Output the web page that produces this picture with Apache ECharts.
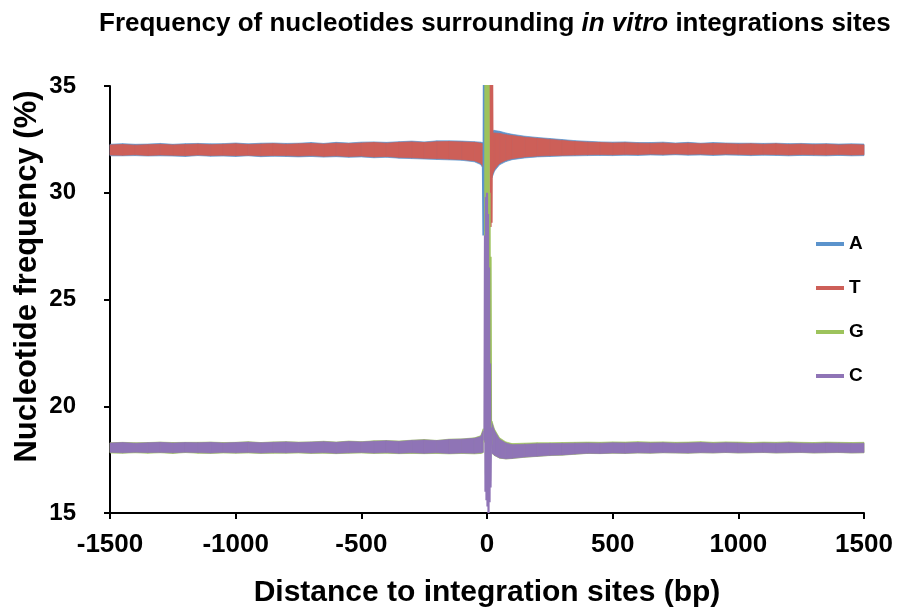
<!DOCTYPE html>
<html>
<head>
<meta charset="utf-8">
<script src="https://cdn.jsdelivr.net/npm/echarts@6/dist/echarts.min.js"></script>
<style>html,body{margin:0;padding:0;background:#fff}#c{width:904px;height:613px}</style>
</head>
<body>
<div id="c"></div>
<script>
// ---- data (bp positions; null at 0 splits the band around the integration site) ----
const bandX = [-1500,-1450,-1400,-1350,-1300,-1250,-1200,-1150,-1100,-1050,-1000,-950,-900,-850,-800,-750,-700,-650,-600,-550,-500,-450,-400,-350,-300,-250,-200,-150,-100,-50,-25,-15,
  0,
  20,30,50,75,100,150,200,250,300,350,400,450,500,550,600,650,700,750,800,850,900,950,1000,1050,1100,1150,1200,1250,1300,1350,1400,1450,1500];

// A (upper / lower edge of the noisy band)
const aUpper = [32.27,32.30,32.27,32.28,32.31,32.27,32.30,32.31,32.29,32.30,32.33,32.29,32.32,32.33,32.31,32.32,32.35,32.31,32.36,32.33,32.37,32.38,32.36,32.39,32.42,32.38,32.43,32.43,32.42,32.39,32.37,32.34,
  null,
  32.92,32.92,32.88,32.80,32.74,32.65,32.59,32.54,32.49,32.44,32.41,32.38,32.37,32.38,32.35,32.35,32.37,32.33,32.36,32.32,32.35,32.33,32.32,32.32,32.31,32.32,32.30,32.31,32.29,32.30,32.28,32.29,32.28];
const aLower = [31.73,31.73,31.74,31.72,31.73,31.72,31.70,31.74,31.71,31.72,31.70,31.73,31.69,31.71,31.70,31.68,31.70,31.67,31.69,31.66,31.68,31.64,31.66,31.62,31.60,31.58,31.56,31.54,31.52,31.45,31.32,31.12,
  null,
  30.70,31.02,31.31,31.46,31.55,31.63,31.68,31.70,31.72,31.73,31.74,31.75,31.74,31.76,31.75,31.77,31.76,31.78,31.76,31.77,31.75,31.77,31.76,31.74,31.76,31.75,31.73,31.75,31.74,31.73,31.75,31.73,31.74];
// T
const tUpper = [32.24,32.26,32.23,32.25,32.27,32.24,32.26,32.28,32.25,32.27,32.29,32.26,32.28,32.30,32.27,32.29,32.31,32.28,32.32,32.30,32.33,32.35,32.32,32.36,32.38,32.35,32.39,32.40,32.38,32.36,32.32,32.28,
  null,
  32.78,32.80,32.78,32.72,32.68,32.60,32.55,32.50,32.45,32.40,32.37,32.35,32.33,32.34,32.32,32.31,32.33,32.30,32.32,32.29,32.31,32.30,32.28,32.29,32.27,32.29,32.26,32.28,32.25,32.27,32.24,32.26,32.24];
const tLower = [31.77,31.76,31.78,31.75,31.77,31.76,31.74,31.77,31.75,31.76,31.74,31.76,31.73,31.75,31.74,31.72,31.74,31.71,31.73,31.70,31.72,31.68,31.70,31.66,31.64,31.62,31.60,31.58,31.56,31.50,31.38,31.20,
  null,
  30.80,31.10,31.38,31.52,31.60,31.68,31.72,31.74,31.76,31.77,31.78,31.79,31.78,31.80,31.79,31.81,31.80,31.82,31.80,31.81,31.79,31.81,31.80,31.78,31.80,31.79,31.77,31.79,31.78,31.77,31.79,31.77,31.78];
// G
const gUpper = [18.29,18.31,18.29,18.30,18.32,18.30,18.31,18.31,18.32,18.30,18.31,18.34,18.30,18.33,18.34,18.32,18.33,18.36,18.32,18.37,18.34,18.38,18.39,18.37,18.41,18.44,18.40,18.46,18.47,18.52,18.62,18.95,
  null,
  19.30,18.92,18.52,18.33,18.25,18.27,18.29,18.29,18.30,18.31,18.32,18.31,18.33,18.32,18.34,18.32,18.33,18.31,18.32,18.34,18.31,18.33,18.32,18.30,18.32,18.31,18.33,18.31,18.30,18.32,18.31,18.30,18.31];
const gLower = [17.81,17.80,17.82,17.80,17.82,17.79,17.83,17.80,17.79,17.81,17.80,17.81,17.79,17.80,17.80,17.81,17.79,17.80,17.78,17.80,17.81,17.79,17.80,17.78,17.79,17.78,17.79,17.77,17.79,17.77,17.79,17.82,
  null,
  17.79,17.69,17.57,17.53,17.55,17.61,17.65,17.69,17.71,17.75,17.79,17.78,17.80,17.79,17.81,17.80,17.82,17.81,17.80,17.82,17.81,17.83,17.81,17.82,17.83,17.81,17.82,17.83,17.81,17.82,17.83,17.81,17.82];
// C
const cUpper = [18.28,18.30,18.27,18.29,18.31,18.28,18.30,18.29,18.31,18.28,18.30,18.32,18.29,18.31,18.33,18.30,18.32,18.34,18.31,18.35,18.33,18.36,18.38,18.35,18.40,18.42,18.39,18.44,18.46,18.50,18.58,18.85,
  null,
  19.20,18.85,18.45,18.28,18.20,18.22,18.24,18.25,18.26,18.27,18.28,18.27,18.29,18.28,18.30,18.28,18.29,18.27,18.28,18.30,18.27,18.29,18.28,18.26,18.28,18.27,18.29,18.27,18.26,18.28,18.27,18.26,18.27];
const cLower = [17.84,17.82,17.85,17.83,17.84,17.82,17.85,17.83,17.81,17.84,17.82,17.84,17.81,17.83,17.82,17.84,17.81,17.83,17.80,17.82,17.84,17.81,17.83,17.80,17.82,17.80,17.82,17.79,17.81,17.80,17.82,17.85,
  null,
  17.80,17.70,17.58,17.54,17.56,17.62,17.66,17.70,17.72,17.76,17.80,17.79,17.81,17.80,17.82,17.81,17.83,17.82,17.81,17.83,17.82,17.84,17.82,17.83,17.84,17.82,17.83,17.84,17.82,17.83,17.84,17.82,17.83];

// spikes right at the integration site (values above 35 run off the top of the plot)
const spikeAx = [-16,-14,-12,-10,-8];
const spikeAy = [31.2,28.0,36.5,28.2,36.5];
const spikeTx = [12,14,16,18,20,22];
const spikeTy = [36.5,28.4,36.5,28.6,36.5,31.0];
const spikeGx = [-8,-6,-4,-2,0,2,4,6,8,10,12,14,16];
const spikeGy = [18.3,36.5,16.8,36.5,16.5,36.5,16.6,36.5,16.7,30.0,16.5,27.0,18.2];
const spikeCx = [-10,-8,-6,-4,-2,0,2,4,6,8,10,12,14,16];
const spikeCy = [18.4,28.0,16.0,29.8,15.6,30.0,15.3,29.0,15.0,26.5,15.5,22.0,16.2,19.0];

const names = ['A','T','G','C'];
const xTicks = [-1500,-1000,-500,0,500,1000,1500];
const yTicks = [15,20,25,30,35];

// ---- styling ----
const FONT = '"Liberation Sans", Arial, Helvetica, sans-serif';
const colors = {A:'#5b93cc', T:'#cd5f58', G:'#9dc35c', C:'#8f74b6'};

function renderBand(params, api) {
  const i = params.dataIndexInside;
  if (i >= params.dataInsideLength - 1) return null;
  const x0 = api.value(0, i), lo0 = api.value(1, i), hi0 = api.value(2, i);
  const x1 = api.value(0, i + 1), lo1 = api.value(1, i + 1), hi1 = api.value(2, i + 1);
  if ([lo0, hi0, lo1, hi1].some(v => v == null || isNaN(v))) return null;
  const col = api.visual('color');
  return {
    type: 'polygon', silent: true,
    shape: {points: [api.coord([x0, hi0]), api.coord([x1, hi1]), api.coord([x1, lo1]), api.coord([x0, lo0])]},
    style: {fill: col, stroke: col, lineWidth: 0.7}
  };
}
function band(name, lo, hi) {
  return {
    name: name, type: 'custom', renderItem: renderBand, color: colors[name], silent: true,
    encode: {x: 0, y: [1, 2]},
    data: bandX.map((x, i) => [x, lo[i] == null ? '-' : lo[i], hi[i] == null ? '-' : hi[i]]),
    animation: false
  };
}
function spike(name, xs, ys) {
  return {
    name: name + '_spike', type: 'line', symbol: 'none', silent: true, color: colors[name],
    lineStyle: {width: 2.2, color: colors[name]}, clip: true,
    data: xs.map((x, i) => [x, ys[i]]), animation: false
  };
}

const series = [
  band('A', aLower, aUpper), spike('A', spikeAx, spikeAy),
  band('T', tLower, tUpper), spike('T', spikeTx, spikeTy),
  band('G', gLower, gUpper), spike('G', spikeGx, spikeGy),
  band('C', cLower, cUpper), spike('C', spikeCx, spikeCy)
];

const chart = echarts.init(document.getElementById('c'), null, {renderer: 'canvas'});
chart.setOption({
  animation: false,
  backgroundColor: '#fff',
  title: {
    text: '{b|Frequency of nucleotides surrounding }{i|in vitro}{b| integrations sites}',
    left: 94, top: 6,
    textStyle: {
      rich: {
        b: {fontFamily: FONT, fontWeight: 'bold', fontSize: 26, color: '#000'},
        i: {fontFamily: FONT, fontWeight: 'bold', fontStyle: 'italic', fontSize: 26, color: '#000'}
      }
    }
  },
  legend: {
    orient: 'vertical', left: 811, top: 229, itemWidth: 28, itemHeight: 4, itemGap: 24,
    selectedMode: false,
    textStyle: {fontFamily: FONT, fontWeight: 'bold', fontSize: 19, color: '#000', lineHeight: 20},
    data: names.map(n => ({name: n, icon: 'rect', itemStyle: {color: colors[n], borderWidth: 0}}))
  },
  grid: {left: 110, right: 40, top: 86, bottom: 100, containLabel: false},
  xAxis: {
    type: 'value', min: xTicks[0], max: xTicks[xTicks.length - 1], interval: 500,
    name: 'Distance to integration sites (bp)', nameLocation: 'middle', nameGap: 65,
    nameTextStyle: {fontFamily: FONT, fontWeight: 'bold', fontSize: 30, color: '#000'},
    axisLine: {show: true, onZero: false, lineStyle: {color: '#000', width: 2}},
    axisTick: {show: true, length: 6, lineStyle: {color: '#000', width: 2}},
    axisLabel: {fontFamily: FONT, fontWeight: 'bold', fontSize: 26, color: '#000', margin: 19,
      showMinLabel: true, showMaxLabel: true, formatter: v => String(v)},
    splitLine: {show: false}
  },
  yAxis: {
    type: 'value', min: yTicks[0], max: yTicks[yTicks.length - 1], interval: 5,
    name: 'Nucleotide frequency (%)', nameLocation: 'middle', nameGap: 67, nameMoveOverlap: false,
    nameTextStyle: {fontFamily: FONT, fontWeight: 'bold', fontSize: 31, color: '#000', padding: [0, 0, 0, 46]},
    axisLine: {show: true, onZero: false, lineStyle: {color: '#000', width: 2}},
    axisTick: {show: true, length: 6, lineStyle: {color: '#000', width: 2}},
    axisLabel: {fontFamily: FONT, fontWeight: 'bold', fontSize: 24, color: '#000', margin: 34,
      showMinLabel: true, showMaxLabel: true, formatter: v => String(v)},
    splitLine: {show: false}
  },
  series: series
});
</script>
</body>
</html>
